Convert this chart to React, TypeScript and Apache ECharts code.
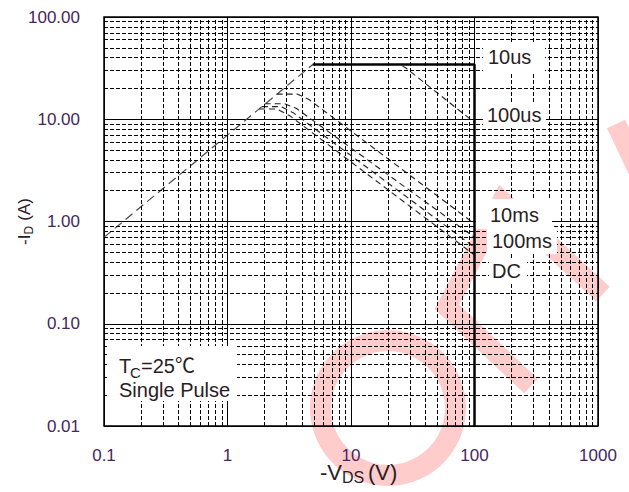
import React, { useEffect, useRef } from "react";
import * as echarts from "echarts";

// ---- axes / grid data ----
const X_DECADES = [0.1, 1, 10, 100];
const Y_DECADES = [0.01, 0.1, 1, 10];
const MINOR_STEPS = [2, 3, 4, 5, 6, 7, 8, 9];
const X_TICK_LABELS = ["0.1", "1", "10", "100", "1000"];
const Y_TICK_LABELS = ["0.01", "0.10", "1.00", "10.00", "100.00"];

// ---- SOA curves (V, I) ----
const RDS_LIMIT = [[0.1, 0.7], [4.9, 34.3]];
const MAX_LIMIT = [[4.9, 34.3], [100, 34.3], [100, 0.01]];
const CURVE_10US = [[4.9, 34.3], [25, 34.3], [28, 31.5], [100, 9.3]];
const CURVE_1MS = [[2.5, 17.6], [3.7, 17.6], [4.6, 15.5], [100, 0.95]];
const CURVE_10MS = [[2.0, 14.2], [2.9, 14.2], [3.6, 12.8], [100, 0.7]];
const CURVE_100MS = [[1.9, 13.3], [2.7, 13.3], [3.4, 11.6], [100, 0.56]];
const CURVE_DC = [[1.8, 12.6], [2.5, 12.6], [3.2, 10.8], [100, 0.47]];

const CURVE_LABELS = ["10us", "100us", "10ms", "100ms", "DC"];
const NOTE_LINE1 = ["T", "C", "=25\u2103"];
const NOTE_LINE2 = "Single Pulse";

const FONT = "'Liberation Sans', Arial, 'Noto Sans CJK SC', sans-serif";
const PINK = "#ffcccc";
const TICK_COLOR = "#45265f";
const TEXT_COLOR = "#2b1c24";

export default function App() {
  const ref = useRef<HTMLDivElement>(null);

  useEffect(() => {
    if (!ref.current) return;
    const chart = echarts.init(ref.current, null, { renderer: "svg" });

    const xMinor: number[] = [];
    X_DECADES.forEach((d) => MINOR_STEPS.forEach((k) => xMinor.push(+(d * k).toPrecision(3))));
    const yMinor: number[] = [];
    Y_DECADES.forEach((d) => MINOR_STEPS.forEach((k) => yMinor.push(+(d * k).toPrecision(3))));

    const dashed = (data: number[][], dash: number[], color: string, width = 1) => ({
      type: "line",
      data,
      symbol: "none",
      silent: true,
      z: 3,
      lineStyle: { color, width, type: dash },
    });

    const label = (text: string, x: number, y: number, size = 20) => ({
      type: "text",
      z: 51,
      silent: true,
      style: { text, x, y, font: `${size}px ${FONT}`, fill: TEXT_COLOR, verticalAlign: "middle", align: "left" },
    });
    const box = (x: number, y: number, w: number, h: number) => ({
      type: "rect",
      z: 50,
      silent: true,
      shape: { x, y, width: w, height: h },
      style: { fill: "#fff" },
    });

    chart.setOption({
      animation: false,
      backgroundColor: "#fff",
      grid: { left: 104, right: 31, top: 17, bottom: 66, show: true, borderColor: "#000", borderWidth: 1.5, backgroundColor: "transparent" },
      xAxis: {
        type: "log",
        logBase: 10,
        min: 0.1,
        max: 1000,
        axisLine: { show: false },
        axisTick: { show: false },
        splitLine: { show: true, lineStyle: { color: "#000", width: 1, type: "solid" } },
        axisLabel: {
          margin: 21,
          fontSize: 17,
          fontFamily: FONT,
          color: TICK_COLOR,
          formatter: (v: number) => X_TICK_LABELS[Math.round(Math.log10(v)) + 1] ?? "",
        },
      },
      yAxis: {
        type: "log",
        logBase: 10,
        min: 0.01,
        max: 100,
        axisLine: { show: false },
        axisTick: { show: false },
        splitLine: { show: true, lineStyle: { color: "#000", width: 1, type: "solid" } },
        axisLabel: {
          margin: 24,
          fontSize: 17,
          fontFamily: FONT,
          color: TICK_COLOR,
          formatter: (v: number) => Y_TICK_LABELS[Math.round(Math.log10(v)) + 2] ?? "",
        },
      },
      series: [
        {
          type: "line",
          data: [[1, 1]],
          showSymbol: false,
          symbol: "none",
          silent: true,
          z: 1,
          lineStyle: { opacity: 0 },
          markLine: {
            silent: true,
            symbol: ["none", "none"],
            label: { show: false },
            lineStyle: { color: "#000", width: 1, type: [4, 2] },
            emphasis: { disabled: true },
            data: [...xMinor.map((v) => ({ xAxis: v })), ...yMinor.map((v) => ({ yAxis: v }))],
          },
        },
        dashed(RDS_LIMIT, [9, 5], "#4a4a4a", 1.2),
        dashed(CURVE_10US, [6, 4], "#222", 1.1),
        dashed(CURVE_1MS, [6, 4], "#222", 1.1),
        dashed(CURVE_10MS, [6, 4], "#222", 1.1),
        dashed(CURVE_100MS, [6, 4], "#222", 1.1),
        dashed(CURVE_DC, [6, 4], "#222", 1.1),
        {
          type: "line",
          data: MAX_LIMIT,
          symbol: "none",
          silent: true,
          z: 4,
          lineStyle: { color: "#000", width: 2.5, type: "solid" },
        },
      ],
      graphic: [
        // watermark
        { type: "ring", z: -1, silent: true, shape: { cx: 388, cy: 408, r: 78, r0: 57 }, style: { fill: PINK } },
        {
          type: "polyline",
          z: -1,
          silent: true,
          shape: { points: [[531, 386], [447, 307], [502, 201], [603, 294]] },
          style: { stroke: PINK, lineWidth: 20, fill: null, lineJoin: "miter" },
        },
        {
          type: "polyline",
          z: -1,
          silent: true,
          shape: { points: [[616, 124], [645, 185]] },
          style: { stroke: PINK, lineWidth: 20, fill: null },
        },
        // label boxes
        box(483, 43, 62, 29),
        box(483, 102, 63, 26),
        box(476, 199, 76, 30),
        box(487, 229, 70, 25),
        box(489, 259, 38, 24),
        box(107, 346, 130, 55),
        label(CURVE_LABELS[0], 488, 57),
        label(CURVE_LABELS[1], 487, 115),
        label(CURVE_LABELS[2], 490, 215),
        label(CURVE_LABELS[3], 492, 241),
        label(CURVE_LABELS[4], 492, 271),
        label(NOTE_LINE1[0], 119, 366, 20),
        label(NOTE_LINE1[1], 130, 372, 15),
        label(NOTE_LINE1[2], 141, 366, 20),
        label(NOTE_LINE2, 119, 390, 20),
        // x axis title
        label("-V", 320, 472, 22),
        label("DS", 342, 477, 16),
        label("(V)", 368, 472, 22),
        // y axis title (rotated)
        {
          type: "group",
          x: 24,
          y: 245,
          rotation: Math.PI / 2,
          z: 51,
          children: [
            { type: "text", silent: true, style: { text: "-I", x: 0, y: 0, font: `17px ${FONT}`, fill: TEXT_COLOR, verticalAlign: "middle" } },
            { type: "text", silent: true, style: { text: "D", x: 10.5, y: 5, font: `12px ${FONT}`, fill: TEXT_COLOR, verticalAlign: "middle" } },
            { type: "text", silent: true, style: { text: " (A)", x: 19.5, y: 0, font: `17px ${FONT}`, fill: TEXT_COLOR, verticalAlign: "middle" } },
          ],
        },
      ],
    });

    return () => chart.dispose();
  }, []);

  return <div ref={ref} style={{ position: "fixed", left: 0, top: 0, width: 629, height: 492, background: "#fff" }} />;
}
